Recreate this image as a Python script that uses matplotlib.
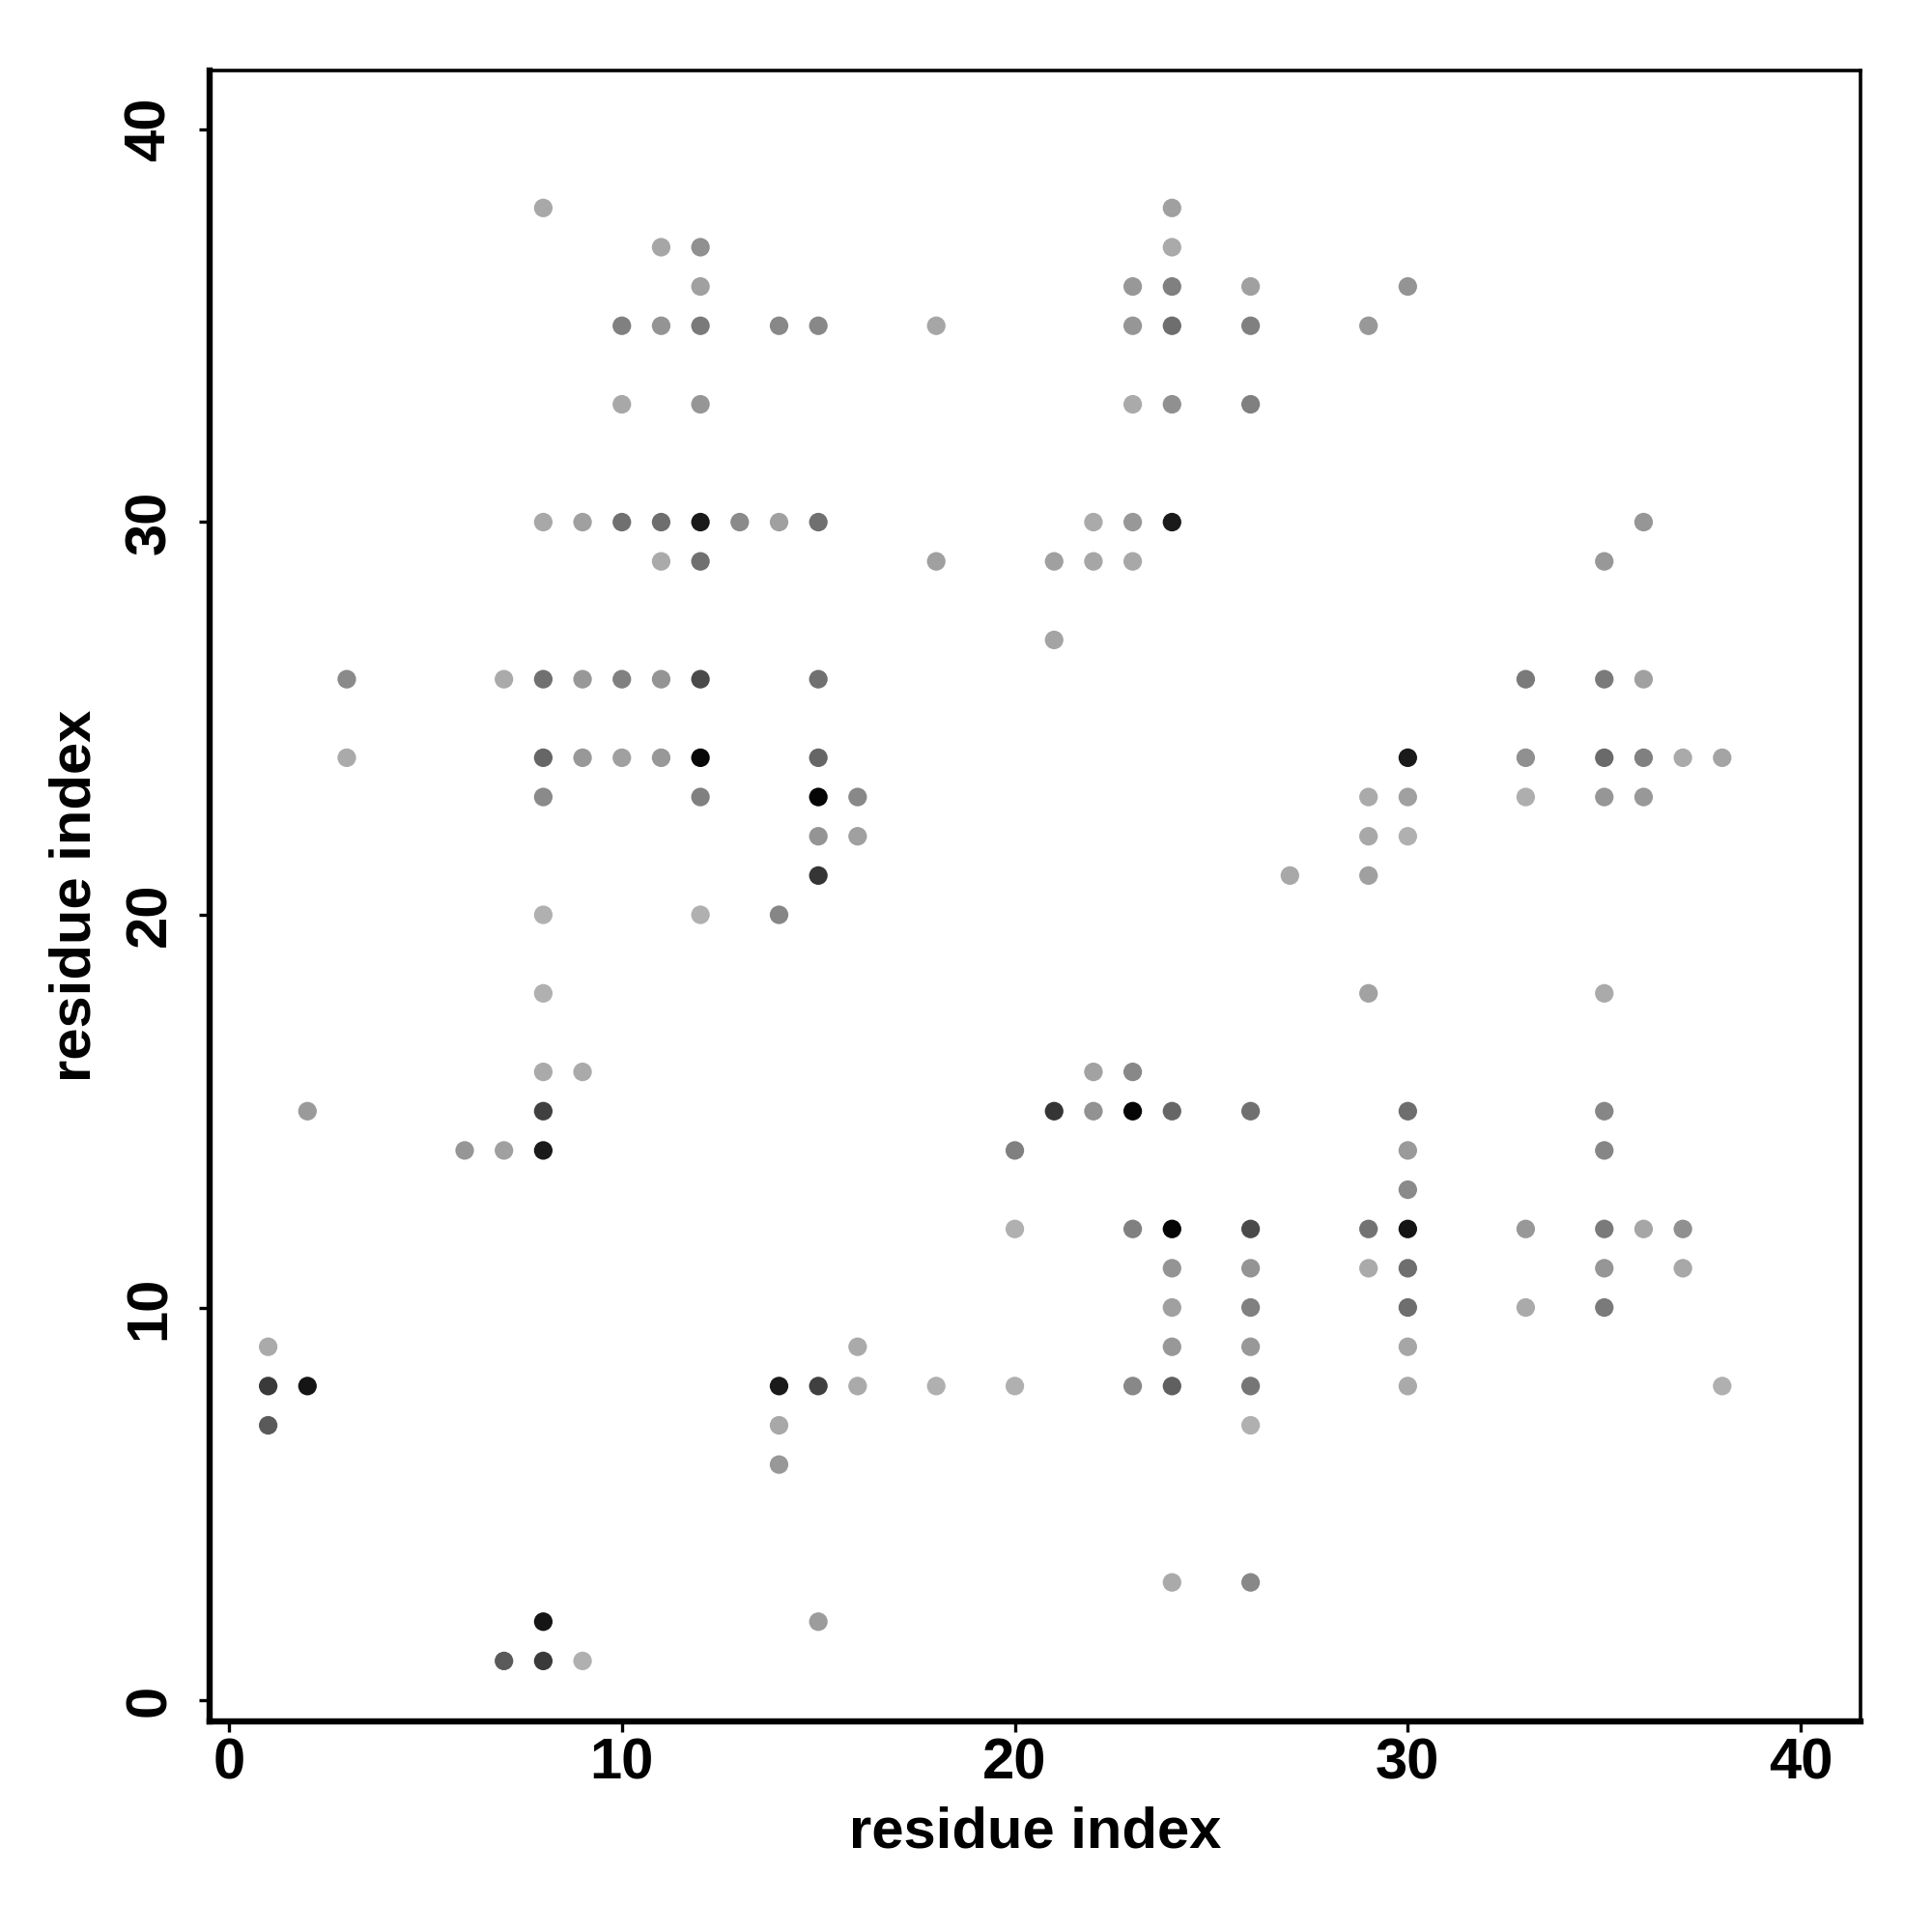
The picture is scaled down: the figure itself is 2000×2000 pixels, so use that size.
import matplotlib
matplotlib.use("Agg")
import matplotlib.pyplot as plt
import numpy as np

# ---- data: contact map (x residue, y residue, gray level 0=black..255=white) ----
res_x = [8, 24,
         11, 12, 24,
         12, 23, 24, 26, 30,
         10, 11, 12, 14, 15, 18, 23, 24, 26, 29,
         10, 12, 23, 24, 26,
         8, 9, 10, 11, 12, 13, 14, 15, 22, 23, 24, 36,
         11, 12, 18, 21, 22, 23, 35,
         21,
         3, 7, 8, 9, 10, 11, 12, 15, 33, 35, 36,
         3, 8, 9, 10, 11, 12, 15, 30, 33, 35, 36, 37, 38,
         8, 12, 15, 16, 29, 30, 33, 35, 36,
         15, 16, 29, 30,
         15, 27, 29,
         8, 12, 14,
         8, 29, 35,
         8, 9, 22, 23,
         2, 8, 21, 22, 23, 24, 26, 30, 35,
         6, 7, 8, 20, 30, 35,
         30,
         20, 23, 24, 26, 29, 30, 33, 35, 36, 37,
         24, 26, 29, 30, 35, 37,
         24, 26, 30, 33, 35,
         1, 16, 24, 26, 30,
         1, 2, 14, 15, 16, 18, 20, 23, 24, 26, 30, 38,
         1, 14, 26,
         14,
         24, 26,
         8, 15,
         7, 8, 9]

res_y = [38, 38,
         37, 37, 37,
         36, 36, 36, 36, 36,
         35, 35, 35, 35, 35, 35, 35, 35, 35, 35,
         33, 33, 33, 33, 33,
         30, 30, 30, 30, 30, 30, 30, 30, 30, 30, 30, 30,
         29, 29, 29, 29, 29, 29, 29,
         27,
         26, 26, 26, 26, 26, 26, 26, 26, 26, 26, 26,
         24, 24, 24, 24, 24, 24, 24, 24, 24, 24, 24, 24, 24,
         23, 23, 23, 23, 23, 23, 23, 23, 23,
         22, 22, 22, 22,
         21, 21, 21,
         20, 20, 20,
         18, 18, 18,
         16, 16, 16, 16,
         15, 15, 15, 15, 15, 15, 15, 15, 15,
         14, 14, 14, 14, 14, 14,
         13,
         12, 12, 12, 12, 12, 12, 12, 12, 12, 12,
         11, 11, 11, 11, 11, 11,
         10, 10, 10, 10, 10,
         9, 9, 9, 9, 9,
         8, 8, 8, 8, 8, 8, 8, 8, 8, 8, 8, 8,
         7, 7, 7,
         6,
         3, 3,
         2, 2,
         1, 1, 1]

gray_level = [0xa8, 0xa0,
              0xa6, 0x90, 0xaa,
              0xa0, 0x98, 0x80, 0xa0, 0x94,
              0x80, 0x94, 0x7a, 0x88, 0x88, 0xa6, 0x96, 0x6e, 0x80, 0x98,
              0xa8, 0x96, 0xaa, 0x90, 0x80,
              0xa8, 0xa0, 0x70, 0x6e, 0x1a, 0x8a, 0xa0, 0x70, 0xaa, 0x98, 0x1a, 0x96,
              0xaa, 0x70, 0xa0, 0xa0, 0xa6, 0xa8, 0x98,
              0xa4,
              0x8a, 0xaa, 0x70, 0x98, 0x80, 0x94, 0x4a, 0x70, 0x7a, 0x7a, 0xa0,
              0xaa, 0x66, 0x98, 0xa0, 0x98, 0x08, 0x66, 0x1a, 0x90, 0x6a, 0x80, 0xaa, 0xa4,
              0x8a, 0x80, 0x05, 0x88, 0xaa, 0xa0, 0xae, 0x96, 0x98,
              0x94, 0xa0, 0xa8, 0xb0,
              0x35, 0xa8, 0xa0,
              0xb0, 0xb0, 0x86,
              0xb0, 0xa2, 0xaa,
              0xaa, 0xaa, 0xa2, 0x88,
              0x9a, 0x40, 0x35, 0x92, 0x05, 0x66, 0x70, 0x6e, 0x86,
              0x96, 0xa0, 0x1a, 0x80, 0x9a, 0x86,
              0x8a,
              0xb0, 0x80, 0x05, 0x4a, 0x72, 0x15, 0x98, 0x7a, 0xa6, 0x90,
              0x94, 0x94, 0xaa, 0x6e, 0x96, 0xa8,
              0xa0, 0x80, 0x6e, 0xaa, 0x7a,
              0xaa, 0xaa, 0x98, 0x98, 0xa6,
              0x3a, 0x15, 0x1a, 0x40, 0xaa, 0xb0, 0xb0, 0x88, 0x60, 0x76, 0xaa, 0xb0,
              0x5a, 0xa8, 0xb0,
              0x98,
              0xaa, 0x88,
              0x15, 0x9c,
              0x5a, 0x3a, 0xb0]

x_ticks = [0, 10, 20, 30, 40]
y_ticks = [0, 10, 20, 30, 40]
x_label = "residue index"
y_label = "residue index"

# ---- figure ----
plt.rcParams['font.family'] = ['Liberation Sans', 'DejaVu Sans']
plt.rcParams['font.weight'] = 'bold'

fig = plt.figure(figsize=(10, 10), dpi=200)
ax = fig.add_axes([0.1085, 0.109, 0.8545, 0.8545])

ax.scatter(res_x, res_y, c=gray_level, cmap='gray', vmin=0, vmax=255,
           s=48, linewidths=0, zorder=3)

ax.set_xlim(-0.49, 41.52)
ax.set_ylim(-0.54, 41.5)

for name, sp in ax.spines.items():
    sp.set_color('black')
    sp.set_linewidth(2.3 if name in ('left', 'bottom') else 1.3)

ax.set_xticks(x_ticks)
ax.set_yticks(y_ticks)
ax.set_xticklabels([str(t) for t in x_ticks], fontsize=21.5, fontweight='bold')
ax.set_yticklabels([str(t) for t in y_ticks], fontsize=21.5, fontweight='bold',
                   rotation=90, va='center')
ax.tick_params(axis='x', direction='out', length=3.8, width=1.2, pad=2)
ax.tick_params(axis='y', direction='out', length=3.8, width=1.2, pad=8.4)

ax.set_xlabel(x_label, fontsize=21.5, fontweight='bold', labelpad=6)
ax.set_ylabel(y_label, fontsize=21.5, fontweight='bold', labelpad=8)

fig.savefig("out.png", dpi=200, facecolor='white')
